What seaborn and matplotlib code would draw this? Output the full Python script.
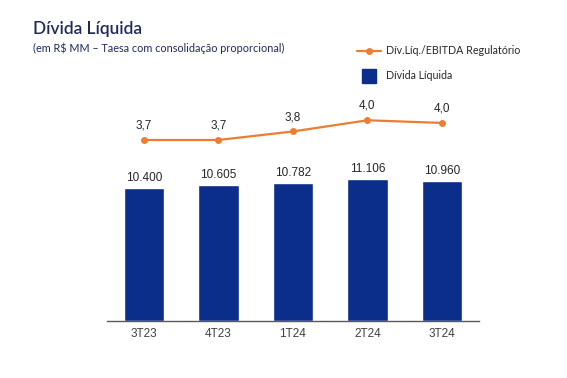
import numpy as np
import pandas as pd
import matplotlib
matplotlib.use("Agg")
import matplotlib.pyplot as plt
from matplotlib.lines import Line2D
import seaborn as sns

quarters = ["3T23", "4T23", "1T24", "2T24", "3T24"]
divida_liquida = [10400, 10605, 10782, 11106, 10960]
alavancagem = [3.70, 3.70, 3.83, 4.00, 3.96]

BLUE = "#0A2E8A"
ORANGE = "#ED7D31"
NAVY = "#1F2A5C"
GREY = "#404040"

sns.set_theme(style="white")
plt.rcParams["font.family"] = ["Liberation Sans", "DejaVu Sans"]

df = pd.DataFrame({"trimestre": quarters, "divida": divida_liquida, "lev": alavancagem})

fig = plt.figure(figsize=(5.67, 3.78), dpi=100)
ax = fig.add_axes([0.188, 0.1516, 0.657, 0.5839])

sns.barplot(data=df, x="trimestre", y="divida", color=BLUE, saturation=1,
            width=0.545, ax=ax)
ax.set_xlim(-0.5, 4.5)
ax.set_ylim(0, 17281)
for i, v in enumerate(divida_liquida):
    ax.annotate(f"{v:,}".replace(",", "."), (i, v), xytext=(0, 3),
                textcoords="offset points", ha="center", va="bottom",
                fontsize=8.5, color="#262626")

ax2 = ax.twinx()
sns.lineplot(x=np.arange(len(quarters)), y=alavancagem, ax=ax2, color=ORANGE,
             lw=1.6, marker="o", markersize=5, markeredgewidth=0)
ax2.set_ylim(0.95, 4.309)
for i, v in enumerate(alavancagem):
    ax2.annotate(f"{v:.1f}".replace(".", ","), (i, v), xytext=(0, 6),
                 textcoords="offset points", ha="center", va="bottom",
                 fontsize=8.5, color="#262626")

for a in (ax, ax2):
    a.set_xlabel("")
    a.set_ylabel("")
    a.set_yticks([])
    for s in ["top", "right", "left"]:
        a.spines[s].set_visible(False)
ax2.spines["bottom"].set_visible(False)
ax.spines["bottom"].set_color("#595959")
ax.spines["bottom"].set_linewidth(1)
ax.tick_params(axis="x", length=0, pad=5, labelsize=8.5, labelcolor=GREY)

fig.text(0.058, 0.91, "Dívida Líquida", fontsize=12.4, fontweight="semibold",
         color=NAVY, family=["Lato", "DejaVu Sans"])
fig.text(0.058, 0.862, "(em R$ MM – Taesa com consolidação proporcional)",
         fontsize=7.8, color=NAVY, family=["Lato", "DejaVu Sans"])

handles = [
    Line2D([], [], color=ORANGE, lw=1.6, marker="o", markersize=5, markeredgewidth=0),
    Line2D([], [], color=BLUE, lw=0, marker="s", markersize=9.5),
]
leg = fig.legend(handles, ["Dív.Líq./EBITDA Regulatório", "Dívida Líquida"],
                 loc="upper left", bbox_to_anchor=(0.63, 0.88), frameon=False,
                 prop={"family": ["Lato", "DejaVu Sans"], "size": 7.7},
                 handlelength=2.2, handletextpad=0.5, labelspacing=1.3,
                 borderpad=0, borderaxespad=0)
for t in leg.get_texts():
    t.set_color("#262626")

fig.savefig("out.png", dpi=100, facecolor="white")
